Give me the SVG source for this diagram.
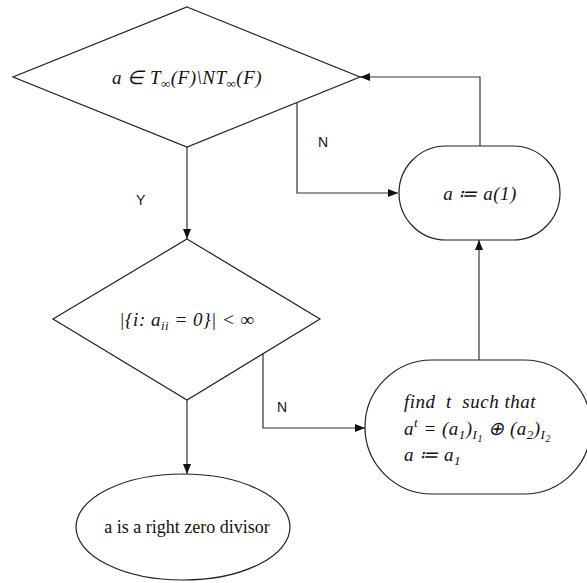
<svg xmlns="http://www.w3.org/2000/svg" width="587" height="583" viewBox="0 0 587 583">
<style>
.s{fill:#fff;stroke:#222;stroke-width:1.2}
.c{fill:none;stroke:#333;stroke-width:1.2}
.m{font-family:"Liberation Serif",serif;font-style:italic;font-size:19px;fill:#111;letter-spacing:0.5px}
.r{font-family:"Liberation Serif",serif;font-size:18px;fill:#111}
.l{font-family:"Liberation Sans",sans-serif;font-size:14px;fill:#111}
.sub{font-size:13px}
.ss{font-size:10px}
</style>
<defs>
<marker id="a" markerWidth="10" markerHeight="8" refX="10" refY="4" orient="auto" markerUnits="userSpaceOnUse">
<path d="M0,0 L10,4 L0,8 Z" fill="#111"/>
</marker>
</defs>
<rect width="587" height="583" fill="#fff"/>
<g id="connectors">
<path class="c" d="M187,147 V239" marker-end="url(#a)"/>
<path class="c" d="M297,103 V193 H398" marker-end="url(#a)"/>
<path class="c" d="M480,146 V77 H360" marker-end="url(#a)"/>
<path class="c" d="M187,400 V474" marker-end="url(#a)"/>
<path class="c" d="M263,353 V428 H365" marker-end="url(#a)"/>
<path class="c" d="M479,360 V240" marker-end="url(#a)"/>
<text class="l" x="136" y="205">Y</text>
<text class="l" x="318" y="147">N</text>
<text class="l" x="277" y="412">N</text>
<text class="l" x="136" y="492">Y</text>
</g>
<g id="d1">
<polygon class="s" points="187,7 360,77 187,147 13,77"/>
<text class="m" x="187" y="84" text-anchor="middle">a ∈ T<tspan class="sub" dy="4">∞</tspan><tspan dy="-4">(F)\NT</tspan><tspan class="sub" dy="4">∞</tspan><tspan dy="-4">(F)</tspan></text>
</g>
<g id="r1">
<rect class="s" x="399" y="146" width="161" height="94" rx="47" ry="47"/>
<text class="m" x="480" y="200" text-anchor="middle">a ≔ a(1)</text>
</g>
<g id="d2">
<polygon class="s" points="187,239 320,319 187,400 53,319"/>
<text class="m" x="187" y="326" text-anchor="middle">|{i: a<tspan class="sub" dy="4">ii</tspan><tspan dy="-4"> = 0}| &lt; ∞</tspan></text>
</g>
<g id="r2">
<rect class="s" x="365" y="360" width="226" height="134" rx="67" ry="67"/>
<text class="m" x="404" y="408" xml:space="preserve">find  t  such that</text>
<text class="m" x="404" y="435">a<tspan class="sub" dy="-8">t</tspan><tspan dy="8"> = (a</tspan><tspan class="sub" dy="4">1</tspan><tspan dy="-4">)</tspan><tspan class="sub" dy="4">I</tspan><tspan class="ss" dy="3">1</tspan><tspan dy="-7"> ⊕ (a</tspan><tspan class="sub" dy="4">2</tspan><tspan dy="-4">)</tspan><tspan class="sub" dy="4">I</tspan><tspan class="ss" dy="3">2</tspan></text>
<text class="m" x="404" y="461">a ≔ a<tspan class="sub" dy="4">1</tspan></text>
</g>
<g id="e1">
<ellipse class="s" cx="183" cy="527" rx="107" ry="53"/>
<text class="r" x="187" y="533" text-anchor="middle">a is a right zero divisor</text>
</g>
</svg>
